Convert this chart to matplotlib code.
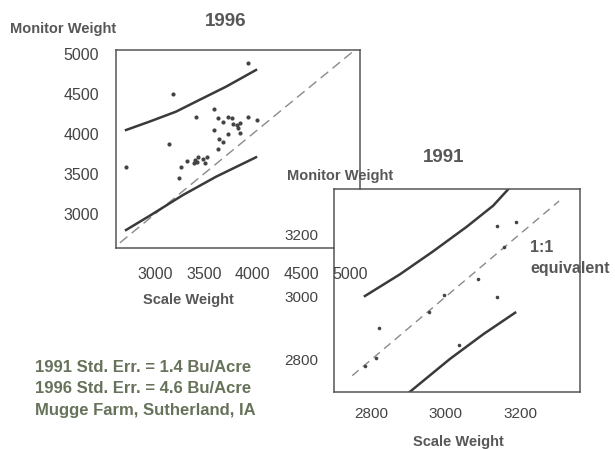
import matplotlib
matplotlib.use("Agg")
import matplotlib.pyplot as plt

plt.rcParams['font.family'] = ['Liberation Sans', 'DejaVu Sans']

# ---- 1996 data ----
x96 = [2703, 3188, 3147, 3957, 3420, 3608, 3643, 3701, 3752, 3786, 3803, 3844,
       3872, 3855, 3872, 3957, 4043, 3608, 3752, 3656, 3694, 3643, 3325, 3267,
       3246, 3410, 3427, 3403, 3444, 3513, 3530, 3496]
y96 = [3592, 4496, 3871, 4883, 4217, 4313, 4204, 4154, 4217, 4196, 4121, 4113,
       4133, 4071, 4008, 4217, 4175, 4050, 3996, 3933, 3896, 3808, 3666, 3592,
       3454, 3675, 3646, 3633, 3708, 3633, 3717, 3683]
up96_x = [2703, 2942, 3215, 3454, 3728, 4036]
up96_y = [4050, 4154, 4279, 4425, 4591, 4800]
lo96_x = [2703, 2942, 3284, 3626, 4036]
lo96_y = [2800, 2975, 3235, 3466, 3709]
ref96 = [2640, 5050]
xt96 = [3000, 3500, 4000, 4500, 5000]
yt96 = [3000, 3500, 4000, 4500, 5000]

# ---- 1991 data ----
x91 = [2783, 2813, 2821, 2955, 2995, 3036, 3087, 3138, 3138, 3189, 3157]
y91 = [2781, 2806, 2902, 2952, 3006, 2848, 3057, 3000, 3225, 3238, 3159]
up91_x = [2784, 2878, 2967, 3057, 3128, 3169]
up91_y = [3003, 3072, 3145, 3223, 3290, 3343]
lo91_x = [2905, 3012, 3102, 3187]
lo91_y = [2699, 2803, 2882, 2950]
ref91 = [2750, 3305]
xt91 = [2800, 3000, 3200]
yt91 = [2800, 3000, 3200]

W, H = 615, 449
fig = plt.figure(figsize=(W / 100, H / 100), dpi=100)


def rect(l, t, r, b):
    return [l / W, 1 - b / H, (r - l) / W, (b - t) / H]


def ftext(x, y, s, **kw):
    fig.text(x / W, 1 - y / H, s, **kw)


txt = '#575757'
edge = '#555555'
line = '#3a3a3a'

# 1991 axes (underneath, white fill covers the 1996 corner)
ax2 = fig.add_axes(rect(334, 189, 580, 392), zorder=1)
ax2.set_facecolor('white')
ax2.set_xlim(2701, 3361)
ax2.set_ylim(2698, 3343)
ax2.plot(ref91, ref91, color='#8a8a8a', lw=1, dashes=(6, 4))
ax2.plot(up91_x, up91_y, color=line, lw=1.8)
ax2.plot(lo91_x, lo91_y, color=line, lw=1.8)
ax2.plot(x91, y91, 'o', color='#444444', ms=2.6, mec='none')
ax2.set_xticks(xt91)
ax2.set_yticks(yt91)
ax2.tick_params(length=0, labelsize=11, colors='#444444', pad=11)
for s in ax2.spines.values():
    s.set_color(edge)
    s.set_linewidth(1.1)

# 1996 axes (on top, transparent)
ax1 = fig.add_axes(rect(116, 50, 360, 248), zorder=2)
ax1.patch.set_alpha(0)
x0, x1 = 2600, 5103
y0, y1 = 2575, 5050
ax1.set_xlim(x0, x1)
ax1.set_ylim(y0, y1)
ax1.plot(ref96, ref96, color='#8a8a8a', lw=1, dashes=(7, 4))
ax1.plot(up96_x, up96_y, color=line, lw=1.8)
ax1.plot(lo96_x, lo96_y, color=line, lw=1.8)
ax1.plot(x96, y96, 'o', color='#444444', ms=3, mec='none')
ax1.set_xticks(xt96)
ax1.set_yticks(yt96)
ax1.tick_params(length=0, labelsize=11.5, colors='#444444')
ax1.tick_params(axis='x', pad=14)
ax1.tick_params(axis='y', pad=12)
for s in ax1.spines.values():
    s.set_color(edge)
    s.set_linewidth(1.1)
# hide the parts of the 1996 frame hidden behind the 1991 panel
ax1.spines['right'].set_bounds(y1 - (189 - 50) / 198 * (y1 - y0), y1)
ax1.spines['bottom'].set_bounds(x0, x0 + (334 - 116) / 244 * (x1 - x0))

bold = dict(fontweight='bold', color=txt)
ftext(226, 22, '1996', fontsize=13.5, ha='center', va='center', **bold)
ftext(10, 29, 'Monitor Weight', fontsize=10.5, ha='left', va='center', **bold)
ftext(188, 300, 'Scale Weight', fontsize=10.5, ha='center', va='center', **bold)

ftext(444, 158, '1991', fontsize=13.5, ha='center', va='center', zorder=5, **bold)
ftext(287, 176, 'Monitor Weight', fontsize=10.5, ha='left', va='center', zorder=5, **bold)
ftext(458, 442, 'Scale Weight', fontsize=10.5, ha='center', va='center', **bold)
ftext(530, 248, '1:1', fontsize=11.5, ha='left', va='center', zorder=5, **bold)
ftext(530, 268, 'equivalent', fontsize=11.5, ha='left', va='center', zorder=5, **bold)

green = '#66725a'
notes = ['1991 Std. Err. = 1.4 Bu/Acre',
         '1996 Std. Err. = 4.6 Bu/Acre',
         'Mugge Farm, Sutherland, IA']
for i, s in enumerate(notes):
    ftext(35, 367 + i * 21.5, s, fontsize=12, fontweight='bold',
          color=green, ha='left', va='center')

fig.savefig('out.png', dpi=100)
